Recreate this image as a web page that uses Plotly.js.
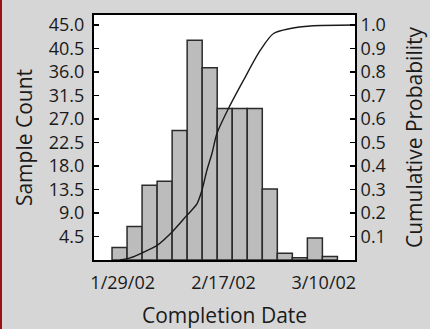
<!DOCTYPE html>
<html>
<head>
<meta charset="utf-8">
<script src="https://cdn.plot.ly/plotly-3.0.1.min.js"></script>
<style>
  html, body { margin: 0; padding: 0; background: rgb(214,214,214); }
  #chart { width: 430px; height: 329px; }
  #edge { position: absolute; left: 0; top: 0; width: 2px; height: 329px; background: #a01010; }
</style>
</head>
<body>
<div id="chart"></div>
<div id="edge"></div>
<script>
// Histogram bins (index) and sample counts
const binIndex = [0, 1, 2, 3, 4, 5, 6, 7, 8, 9, 10, 11, 12, 13, 14];
const sampleCounts = [2.4, 6.4, 14.3, 15.1, 24.8, 42.1, 36.8, 29.0, 29.0, 29.0, 13.6, 1.3, 0.45, 4.2, 0.65];

// Cumulative probability curve (x in bin units)
const cumX = [0.03, 0.7, 1.59, 2.48, 3.48, 4.48, 5.15, 5.48, 5.81, 6.15, 6.48, 7.25, 8.25, 9.37, 10.25, 11.37, 12.7, 15.63];
const cumY = [0.0, 0.009, 0.033, 0.061, 0.118, 0.19, 0.239, 0.296, 0.381, 0.453, 0.538, 0.645, 0.765, 0.893, 0.964, 0.985, 0.996, 1.0];

// Tick labels
const xTickVals = [0.21, 6.92, 13.59];
const xTickText = ["1/29/02", "2/17/02", "3/10/02"];
const countTicks = [4.5, 9.0, 13.5, 18.0, 22.5, 27.0, 31.5, 36.0, 40.5, 45.0];
const probTicks = [0.1, 0.2, 0.3, 0.4, 0.5, 0.6, 0.7, 0.8, 0.9, 1.0];

const FONT = '"Open Sans", "Noto Sans", sans-serif';

const traces = [
  {
    type: 'bar',
    x: binIndex,
    y: sampleCounts,
    width: 1,
    marker: { color: '#bcbcbc', line: { color: '#2b2b2b', width: 1.5 } },
    hoverinfo: 'skip'
  },
  {
    type: 'scatter',
    mode: 'lines',
    x: cumX,
    y: cumY,
    yaxis: 'y2',
    line: { color: '#1a1a1a', width: 1.4, shape: 'spline', smoothing: 0.8 },
    hoverinfo: 'skip'
  }
];

const layout = {
  width: 430,
  height: 329,
  margin: { l: 94, r: 75, t: 15, b: 69, pad: 0 },
  paper_bgcolor: 'rgb(214,214,214)',
  plot_bgcolor: '#ffffff',
  showlegend: false,
  font: { family: FONT, color: '#1a1a1a', size: 18 },
  bargap: 0,
  xaxis: {
    range: [-1.7, 15.67],
    tickvals: xTickVals,
    ticktext: xTickText,
    ticks: '',
    ticklabelstandoff: 5,
    showgrid: false,
    zeroline: false,
    showline: true,
    linecolor: '#000',
    linewidth: 2,
    mirror: true,
    tickfont: { family: FONT, size: 18, color: '#1a1a1a' },
    title: { text: 'Completion Date', font: { family: FONT, size: 21, color: '#1a1a1a' }, standoff: 22 }
  },
  yaxis: {
    range: [0, 46.92],
    tickvals: countTicks,
    tickformat: '.1f',
    ticks: 'inside',
    ticklen: 5,
    tickwidth: 1.5,
    tickcolor: '#000',
    ticklabelstandoff: 4,
    showgrid: false,
    zeroline: false,
    showline: true,
    linecolor: '#000',
    linewidth: 2,
    tickfont: { family: FONT, size: 18, color: '#1a1a1a' },
    title: { text: 'Sample Count', font: { family: FONT, size: 21, color: '#1a1a1a' }, standoff: 10 }
  },
  yaxis2: {
    overlaying: 'y',
    side: 'right',
    range: [0, 46.92 / 45],
    tickvals: probTicks,
    tickformat: '.1f',
    ticks: 'inside',
    ticklen: 5,
    tickwidth: 1.5,
    tickcolor: '#000',
    showgrid: false,
    zeroline: false,
    showline: true,
    linecolor: '#000',
    linewidth: 2,
    tickfont: { family: FONT, size: 18, color: '#1a1a1a' },
    title: { text: 'Cumulative Probability', font: { family: FONT, size: 21, color: '#1a1a1a' }, standoff: 22 }
  }
};

Plotly.newPlot('chart', traces, layout, { staticPlot: true, displayModeBar: false });
</script>
</body>
</html>
